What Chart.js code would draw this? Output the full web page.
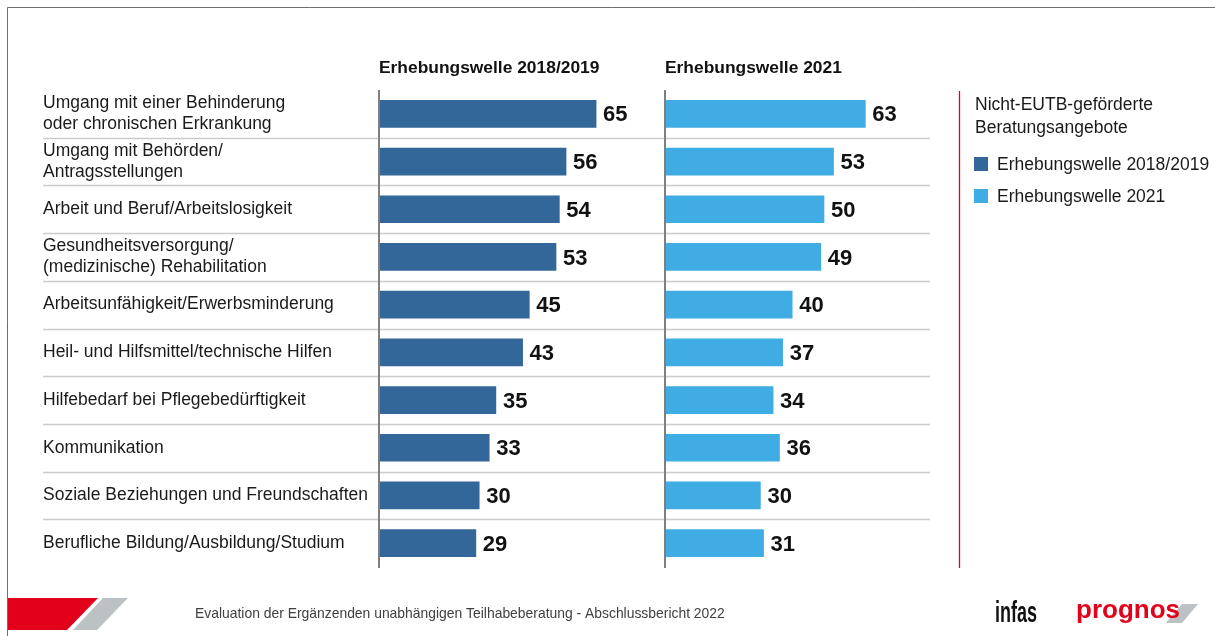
<!DOCTYPE html>
<html>
<head>
<meta charset="utf-8">
<script src="https://cdn.jsdelivr.net/npm/chart.js@4.4.1/dist/chart.umd.min.js"></script>
<style>
  html, body { margin: 0; padding: 0; background: #ffffff; }
  #wrap { position: relative; width: 1215px; height: 636px; overflow: hidden; }
  canvas { position: absolute; left: 0; top: 0; }
</style>
</head>
<body>
<div id="wrap">
  <canvas id="c1" width="1215" height="636"></canvas>
  <canvas id="c2" width="1215" height="636"></canvas>
</div>
<script>
const categories = [
  ["Umgang mit einer Behinderung", "oder chronischen Erkrankung"],
  ["Umgang mit Behörden/", "Antragsstellungen"],
  "Arbeit und Beruf/Arbeitslosigkeit",
  ["Gesundheitsversorgung/", "(medizinische) Rehabilitation"],
  "Arbeitsunfähigkeit/Erwerbsminderung",
  "Heil- und Hilfsmittel/technische Hilfen",
  "Hilfebedarf bei Pflegebedürftigkeit",
  "Kommunikation",
  "Soziale Beziehungen und Freundschaften",
  "Berufliche Bildung/Ausbildung/Studium"
];
const wave2018 = [65, 56, 54, 53, 45, 43, 35, 33, 30, 29];
const wave2021 = [63, 53, 50, 49, 40, 37, 34, 36, 30, 31];
const seriesNames = ["Erhebungswelle 2018/2019", "Erhebungswelle 2021"];
const legendTitle = ["Nicht-EUTB-geförderte", "Beratungsangebote"];
const footerText = "Evaluation der Ergänzenden unabhängigen Teilhabeberatung - Abschlussbericht 2022";

const FONT = "'Liberation Sans', Arial, Helvetica, sans-serif";
const COL_DARK = "#336699";
const COL_LIGHT = "#3fade3";

function panelPlugin(title, drawSeparators) {
  return {
    id: 'panel',
    beforeDatasetsDraw(chart) {
      const ctx = chart.ctx;
      const ys = chart.scales.y;
      ctx.save();
      if (drawSeparators) {
        ctx.strokeStyle = '#c9cbcd';
        ctx.lineWidth = 1.5;
        for (let i = 0; i < categories.length - 1; i++) {
          const yy = Math.round((ys.getPixelForValue(i) + ys.getPixelForValue(i + 1)) / 2) + 0.5;
          ctx.beginPath();
          ctx.moveTo(43, yy);
          ctx.lineTo(930, yy);
          ctx.stroke();
        }
      }
      ctx.restore();
    },
    afterDatasetsDraw(chart) {
      const ctx = chart.ctx;
      const xs = chart.scales.x;
      const ca = chart.chartArea;
      ctx.save();
      const x0 = xs.getPixelForValue(0);
      ctx.strokeStyle = '#7f7f7f';
      ctx.lineWidth = 2;
      ctx.beginPath();
      ctx.moveTo(x0, ca.top);
      ctx.lineTo(x0, ca.bottom + 1);
      ctx.stroke();
      ctx.fillStyle = '#111111';
      ctx.font = "bold 17.4px " + FONT;
      ctx.textBaseline = 'alphabetic';
      ctx.textAlign = 'left';
      ctx.fillText(title, x0, 73);
      const ds = chart.data.datasets[0];
      const meta = chart.getDatasetMeta(0);
      ctx.font = "bold 22px " + FONT;
      ctx.textBaseline = 'middle';
      meta.data.forEach((bar, i) => {
        ctx.fillText(String(ds.data[i]), bar.x + 7, bar.y + 1.5);
      });
      ctx.restore();
    }
  };
}

const decorPlugin = {
  id: 'decor',
  afterDraw(chart) {
    const ctx = chart.ctx;
    ctx.save();
    ctx.strokeStyle = '#6f6f6f';
    ctx.lineWidth = 1;
    ctx.beginPath();
    ctx.moveTo(7.5, 636);
    ctx.lineTo(7.5, 7.5);
    ctx.lineTo(1215, 7.5);
    ctx.stroke();
    ctx.strokeStyle = '#e2001a';
    ctx.lineWidth = 1.3;
    ctx.beginPath();
    ctx.moveTo(959.5, 91);
    ctx.lineTo(959.5, 568);
    ctx.stroke();
    ctx.fillStyle = '#1a1a1a';
    ctx.font = "17.5px " + FONT;
    ctx.textAlign = 'left';
    ctx.textBaseline = 'middle';
    ctx.fillText(legendTitle[0], 975, 105);
    ctx.fillText(legendTitle[1], 975, 128);
    const cols = [COL_DARK, COL_LIGHT];
    const ly = [164, 196];
    seriesNames.forEach((n, i) => {
      ctx.fillStyle = cols[i];
      ctx.fillRect(974, ly[i] - 7, 14, 14);
      ctx.fillStyle = '#1a1a1a';
      ctx.fillText(n, 997, ly[i] + 1);
    });
    ctx.fillStyle = '#e2001a';
    ctx.beginPath();
    ctx.moveTo(8, 598); ctx.lineTo(98, 598); ctx.lineTo(67, 630); ctx.lineTo(8, 630); ctx.closePath();
    ctx.fill();
    ctx.fillStyle = '#bcc1c3';
    ctx.beginPath();
    ctx.moveTo(103, 598); ctx.lineTo(128, 598); ctx.lineTo(97, 630); ctx.lineTo(73, 630); ctx.closePath();
    ctx.fill();
    ctx.fillStyle = '#404040';
    ctx.font = "13.9px " + FONT;
    ctx.textBaseline = 'alphabetic';
    ctx.fillText(footerText, 195, 618);
    ctx.save();
    ctx.translate(995, 622);
    ctx.scale(0.6, 1);
    ctx.fillStyle = '#111111';
    ctx.font = "bold 30px " + FONT;
    ctx.fillText("infas", 0, 0);
    ctx.restore();
    ctx.fillStyle = '#bcc1c3';
    ctx.beginPath();
    ctx.moveTo(1182, 604); ctx.lineTo(1198, 604); ctx.lineTo(1182, 623); ctx.lineTo(1166, 623); ctx.closePath();
    ctx.fill();
    ctx.fillStyle = '#e2001a';
    ctx.font = "bold 26px " + FONT;
    ctx.fillText("prognos", 1076, 618);
    ctx.restore();
  }
};

const baseOpts = {
  responsive: false,
  animation: false,
  devicePixelRatio: 1,
  indexAxis: 'y',
  plugins: { legend: { display: false }, tooltip: { enabled: false }, title: { display: false } },
  events: []
};

new Chart(document.getElementById('c1'), {
  type: 'bar',
  data: {
    labels: categories,
    datasets: [{ label: seriesNames[0], data: wave2018, backgroundColor: COL_DARK, borderWidth: 0, barThickness: 27 }]
  },
  options: Object.assign({}, baseOpts, {
    layout: { padding: { left: 43, top: 90, right: 502, bottom: 69 } },
    scales: {
      x: { display: false, min: 0, max: 100 },
      y: {
        grid: { display: false },
        border: { display: false },
        ticks: {
          crossAlign: 'far',
          padding: 0,
          color: '#1a1a1a',
          font: { family: FONT, size: 17.5, lineHeight: 1.22 }
        },
        afterFit(s) { s.width = 336; }
      }
    }
  }),
  plugins: [panelPlugin(seriesNames[0], true)]
});

new Chart(document.getElementById('c2'), {
  type: 'bar',
  data: {
    labels: categories,
    datasets: [{ label: seriesNames[1], data: wave2021, backgroundColor: COL_LIGHT, borderWidth: 0, barThickness: 27 }]
  },
  options: Object.assign({}, baseOpts, {
    layout: { padding: { left: 665, top: 90, right: 232, bottom: 69 } },
    scales: {
      x: { display: false, min: 0, max: 100 },
      y: { display: false }
    }
  }),
  plugins: [panelPlugin(seriesNames[1], false), decorPlugin]
});
</script>
</body>
</html>
